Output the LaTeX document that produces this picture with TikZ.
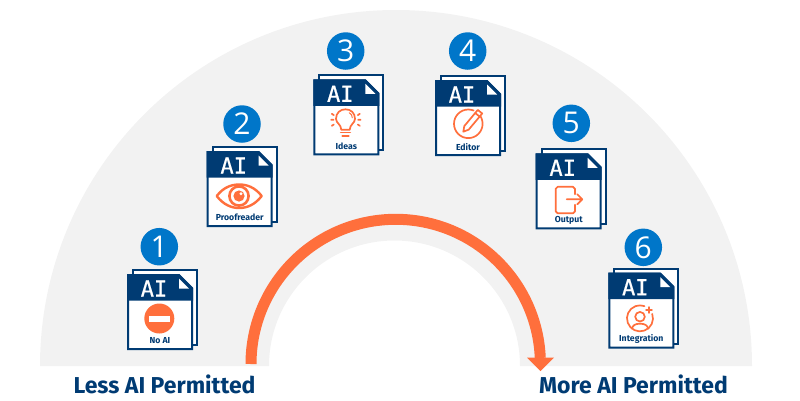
\documentclass[tikz,border=0pt]{standalone}
\usepackage{fontspec}
\setmainfont{Fira Sans}
\newfontfamily\monoai[FakeBold=0.7]{DejaVu Sans Mono}
\newfontfamily\numf{Open Sans}
\usetikzlibrary{calc}
\definecolor{navy}{HTML}{003B73}
\definecolor{blueb}{HTML}{0076C9}
\definecolor{orng}{HTML}{FF6F3C}
\definecolor{bgg}{HTML}{F2F2F2}
\tikzset{
  numc/.style={circle,fill=blueb,minimum size=37.5pt,inner sep=0pt,text=white,font=\numf\fontsize{30}{30}\selectfont},
  lbl/.style={text=navy,font=\bfseries\fontsize{8.7}{8.7}\selectfont,inner sep=0pt},
  ailbl/.style={text=white,font=\monoai\fontsize{22}{22}\selectfont,inner sep=0pt},
  pg/.style={draw=navy,line width=2pt,line join=miter},
  ic/.style={draw=orng,line width=1.7pt,line cap=round,line join=round},
  caption/.style={text=navy,font=\bfseries\fontsize{23}{23}\selectfont,inner sep=0pt,anchor=base}
}
% #1 id, #2 x, #3 y, #4 number, #5 label, #6 icon in local coords, #7 #8 number badge offset
\newcommand{\docicon}[8]{%
\begin{scope}[shift={(#2,#3)}]
  \fill[white] (6,-4) rectangle (70,71);
  \draw[pg] (6,-4) rectangle (70,71);
  \fill[white,pg] (1,1) -- (52,1) -- (65,14) -- (65,75) -- (1,75) -- cycle;
  \fill[navy] (0,0) -- (52,0) -- (66,14) -- (66,26.5) -- (0,26.5) -- cycle;
  \fill[white] (52,4.5) -- (62,14.5) -- (52,14.5) -- cycle;
  \node[ailbl] (ai#1) at (27,14.5) {AI};
  \node[lbl] (lab#1) at (33,66.6) {#5};
  #6
  \node[numc] (num#1) at (#7,#8) {#4};
\end{scope}}
\begin{document}
\begin{tikzpicture}[x=1pt,y=-1pt]
\useasboundingbox (0,0) rectangle (800,400);
\fill[bgg] (40,366) arc[start angle=180,end angle=360,radius=356] -- (520,366) arc[start angle=360,end angle=180,radius=125.5] -- cycle;
\coordinate (arcstart) at (251,364);
\coordinate (archead) at (540.5,371);
\draw[orng,line width=11pt] (arcstart) arc[start angle=180,delta angle=177.6,radius=144.7];
\fill[orng] (527,357.5) -- (554,357.5) -- (archead) -- cycle;
\docicon{1}{127}{274}{1}{No AI}{%
  \fill[orng] (32.3,44.5) circle (15);
  \fill[white] (22,41.5) rectangle (43,47.5);
}{32.3}{-27.3}
\docicon{2}{206.7}{151}{2}{Proofreader}{%
  \draw[ic,line width=2.4pt] (10,45) .. controls (17,36) and (25,33.5) .. (32.5,33.5) .. controls (40,33.5) and (48,36) .. (55,45) .. controls (48,54) and (40,57) .. (32.5,57) .. controls (25,57) and (17,54) .. (10,45) -- cycle;
  \draw[ic,line width=2.6pt] (32.3,45) circle (9.6);
  \fill[orng] (32.3,45) circle (5.6);
  \fill[white] (34.3,42.8) circle (1.6);
}{35.3}{-27}
\docicon{3}{313.3}{79.3}{3}{Ideas}{%
  \draw[ic] (28,50.5) .. controls (28,45) and (22.7,44) .. (22.7,39.5) .. controls (22.7,33.5) and (27,30) .. (32.2,30) .. controls (37.4,30) and (41.7,33.5) .. (41.7,39.5) .. controls (41.7,44) and (36.4,45) .. (36.4,50.5) -- cycle;
  \draw[ic,line width=1pt] (36,33.5) .. controls (38,34.5) and (39,36.5) .. (39,38.5);
  \draw[ic] (27.5,53.3) -- (37,53.3) (29,56.5) -- (35.5,56.5);
  \draw[ic] (18.5,34.5) -- (20.5,35.8) (17.8,40.5) -- (20.3,40.5) (18.5,46.5) -- (20.5,45.2)
            (46.5,34.5) -- (44.5,35.8) (47.3,40.5) -- (44.8,40.5) (46.5,46.5) -- (44.5,45.2);
}{32.4}{-28.3}
\docicon{4}{435}{80}{4}{Editor}{%
  \draw[ic] (33.3,43.8) circle (14.3);
  \fill[white] (33.7,49.65) -- (47.2,33.5) -- (42.8,29.9) -- (29.3,46.05) -- cycle;
  \draw[white,line width=4.5pt] (47.2,33.5) -- (42.8,29.9) -- (29.3,46.05);
  \draw[ic] (28.3,51.7) -- (33.7,49.65) -- (47.2,33.5) -- (42.8,29.9) -- (29.3,46.05) -- cycle;
  \draw[ic] (44.6,36.6) -- (40.2,33);
}{32.7}{-29}
\docicon{5}{535.7}{153.3}{5}{Output}{%
  \draw[ic] (39.3,41) -- (39.3,35.5) -- (37.3,33.5) -- (22,33.5) -- (20,35.5) -- (20,58) -- (22,60) -- (37.3,60) -- (39.3,58) -- (39.3,51.5);
  \draw[ic] (31,46) -- (46.6,46) (41.6,41) -- (46.6,46) -- (41.6,51);
}{35.6}{-30}
\docicon{6}{608.3}{272.7}{6}{Integration}{%
  \draw[ic] (43.9,41.2) arc[start angle=-20,delta angle=310,radius=13];
  \draw[ic] (31.7,44) circle (4.8);
  \draw[ic] (23.5,56) .. controls (24.5,52.5) and (27,51) .. (31.7,51) .. controls (36.5,51) and (39,52.5) .. (40,56);
  \draw[ic,line width=1.4pt] (37.7,37.3) -- (43.7,37.3) (40.7,34.3) -- (40.7,40.3);
}{35}{-25.4}
\node[caption] (less) at (164.5,393) {Less AI Permitted};
\node[caption] (more) at (633.5,393) {More AI Permitted};
\end{tikzpicture}
\end{document}
